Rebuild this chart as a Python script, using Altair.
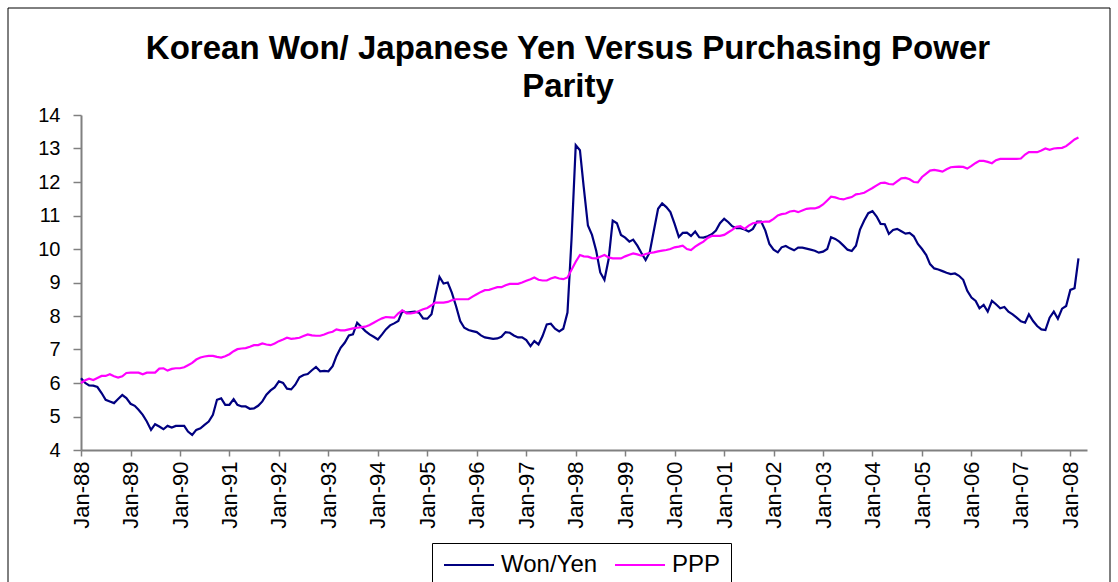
import altair as alt
import pandas as pd

# Monthly observations, Jan-1988 .. Mar-2008
months = pd.date_range("1988-01-01", periods=243, freq="MS")

won_yen = [
    # 1988
    6.14, 6.00, 5.93, 5.92, 5.88, 5.70, 5.50, 5.45, 5.40, 5.52, 5.64, 5.55,
    # 1989
    5.38, 5.32, 5.20, 5.05, 4.85, 4.60, 4.77, 4.70, 4.62, 4.72, 4.67, 4.72,
    # 1990
    4.72, 4.72, 4.55, 4.45, 4.60, 4.65, 4.75, 4.85, 5.05, 5.50, 5.54, 5.35,
    # 1991
    5.35, 5.52, 5.35, 5.30, 5.30, 5.23, 5.24, 5.32, 5.45, 5.65, 5.78, 5.87,
    # 1992
    6.05, 6.00, 5.83, 5.81, 5.95, 6.17, 6.24, 6.27, 6.38, 6.48, 6.35, 6.36,
    # 1993
    6.35, 6.50, 6.80, 7.05, 7.20, 7.42, 7.45, 7.80, 7.67, 7.55, 7.45, 7.38,
    # 1994
    7.30, 7.45, 7.60, 7.72, 7.78, 7.85, 8.15, 8.10, 8.12, 8.13, 8.10, 7.93,
    # 1995
    7.92, 8.05, 8.60, 9.17, 8.97, 9.00, 8.70, 8.30, 7.85, 7.65, 7.58, 7.55,
    # 1996
    7.52, 7.42, 7.36, 7.34, 7.32, 7.33, 7.38, 7.52, 7.50, 7.42, 7.36, 7.36,
    # 1997
    7.28, 7.10, 7.25, 7.15, 7.40, 7.75, 7.77, 7.62, 7.54, 7.62, 8.10, 10.30,
    # 1998
    13.10, 12.95, 11.85, 10.70, 10.42, 9.95, 9.30, 9.08, 9.70, 10.85, 10.77, 10.42,
    # 1999
    10.34, 10.22, 10.28, 10.10, 9.88, 9.67, 9.90, 10.55, 11.20, 11.36, 11.25, 11.10,
    # 2000
    10.75, 10.36, 10.48, 10.49, 10.39, 10.52, 10.35, 10.34, 10.38, 10.44, 10.55, 10.77,
    # 2001
    10.90, 10.80, 10.68, 10.62, 10.62, 10.58, 10.52, 10.60, 10.82, 10.82, 10.55, 10.15,
    # 2002
    9.98, 9.90, 10.05, 10.09, 10.02, 9.96, 10.04, 10.04, 10.01, 9.98, 9.95, 9.89,
    # 2003
    9.92, 10.00, 10.35, 10.30, 10.22, 10.10, 9.98, 9.94, 10.10, 10.58, 10.85, 11.07,
    # 2004
    11.13, 10.97, 10.75, 10.74, 10.45, 10.57, 10.60, 10.53, 10.46, 10.48, 10.38, 10.15,
    # 2005
    10.00, 9.82, 9.55, 9.42, 9.39, 9.34, 9.29, 9.25, 9.27, 9.20, 9.08, 8.75,
    # 2006
    8.55, 8.45, 8.23, 8.33, 8.13, 8.45, 8.35, 8.23, 8.27, 8.13, 8.05, 7.95,
    # 2007
    7.84, 7.80, 8.05, 7.85, 7.70, 7.60, 7.58, 7.95, 8.13, 7.92, 8.22, 8.30,
    # 2008
    8.78, 8.83, 9.72,
]

ppp = [
    # 1988
    6.00, 6.08, 6.13, 6.09, 6.15, 6.21, 6.21, 6.26, 6.20, 6.16, 6.20, 6.30,
    # 1989
    6.31, 6.31, 6.31, 6.26, 6.31, 6.31, 6.31, 6.43, 6.44, 6.37, 6.42, 6.44,
    # 1990
    6.44, 6.47, 6.53, 6.60, 6.70, 6.76, 6.79, 6.81, 6.81, 6.78, 6.76, 6.80,
    # 1991
    6.86, 6.95, 7.01, 7.03, 7.04, 7.08, 7.13, 7.13, 7.18, 7.15, 7.13, 7.18,
    # 1992
    7.25, 7.30, 7.35, 7.32, 7.33, 7.35, 7.40, 7.45, 7.42, 7.41, 7.41, 7.45,
    # 1993
    7.50, 7.53, 7.60, 7.57, 7.57, 7.60, 7.63, 7.65, 7.67, 7.68, 7.73, 7.80,
    # 1994
    7.87, 7.93, 7.97, 7.96, 7.95, 8.08, 8.17, 8.08, 8.08, 8.10, 8.15, 8.20,
    # 1995
    8.24, 8.32, 8.40, 8.40, 8.40, 8.42, 8.47, 8.50, 8.50, 8.50, 8.50, 8.58,
    # 1996
    8.65, 8.72, 8.77, 8.78, 8.82, 8.86, 8.86, 8.92, 8.96, 8.96, 8.96, 9.00,
    # 1997
    9.05, 9.10, 9.15, 9.08, 9.06, 9.06, 9.12, 9.16, 9.12, 9.10, 9.15, 9.38,
    # 1998
    9.62, 9.82, 9.78, 9.77, 9.73, 9.72, 9.77, 9.82, 9.75, 9.72, 9.72, 9.72,
    # 1999
    9.78, 9.83, 9.87, 9.84, 9.80, 9.85, 9.88, 9.90, 9.93, 9.95, 9.97, 10.00,
    # 2000
    10.05, 10.07, 10.10, 10.00, 9.97, 10.07, 10.15, 10.22, 10.33, 10.39, 10.39, 10.39,
    # 2001
    10.42, 10.50, 10.57, 10.66, 10.68, 10.60, 10.70, 10.77, 10.79, 10.80, 10.82, 10.82,
    # 2002
    10.90, 11.00, 11.04, 11.06, 11.12, 11.14, 11.10, 11.15, 11.20, 11.21, 11.21, 11.25,
    # 2003
    11.33, 11.45, 11.56, 11.54, 11.50, 11.48, 11.52, 11.55, 11.63, 11.65, 11.68, 11.75,
    # 2004
    11.82, 11.90, 11.97, 11.98, 11.94, 11.93, 12.02, 12.11, 12.12, 12.08, 12.00, 11.99,
    # 2005
    12.15, 12.25, 12.34, 12.36, 12.34, 12.31, 12.38, 12.44, 12.45, 12.46, 12.45, 12.40,
    # 2006
    12.48, 12.57, 12.63, 12.63, 12.60, 12.56, 12.65, 12.69, 12.69, 12.69, 12.69, 12.69,
    # 2007
    12.70, 12.82, 12.89, 12.89, 12.89, 12.94, 13.00, 12.96, 13.00, 13.01, 13.02, 13.07,
    # 2008
    13.17, 13.27, 13.33,
]

series_names = ["Won/Yen", "PPP"]
series_colors = ["#000080", "#FF00FF"]
y_ticks = list(range(4, 15))
tick_years = list(range(1988, 2009))

df = pd.DataFrame({
    "date": list(months) + list(months),
    "value": won_yen + ppp,
    "series": [series_names[0]] * len(won_yen) + [series_names[1]] * len(ppp),
})

FONT = "Liberation Sans"

x_axis = alt.Axis(
    values=[alt.DateTime(year=y, month=1, date=1) for y in tick_years],
    format="%b-%y",
    labelAngle=270,
    labelFontSize=22,
    labelFont=FONT,
    labelColor="black",
    labelPadding=5,
    labelOverlap=False,
    tickSize=6,
    tickColor="#808080",
    tickWidth=1.5,
    domainColor="#808080",
    domainWidth=2,
    grid=False,
    title=None,
)

y_axis = alt.Axis(
    values=y_ticks,
    labelFontSize=20,
    labelFont=FONT,
    labelColor="black",
    labelPadding=13,
    tickSize=8,
    tickColor="#808080",
    tickWidth=1.5,
    domainColor="#808080",
    domainWidth=2,
    grid=False,
    title=None,
)

lines = alt.Chart(df).mark_line(strokeWidth=2.2).encode(
    x=alt.X(
        "date:T",
        axis=x_axis,
        scale=alt.Scale(
            domain=[alt.DateTime(year=1988, month=1, date=1),
                    alt.DateTime(year=2008, month=5, date=3)],
            nice=False,
        ),
    ),
    y=alt.Y("value:Q", axis=y_axis, scale=alt.Scale(domain=[4, 14], nice=False, zero=False)),
    color=alt.Color(
        "series:N",
        scale=alt.Scale(domain=series_names, range=series_colors),
        sort=series_names,
        legend=alt.Legend(
            title=None,
            orient="none",
            legendX=351,
            legendY=428,
            direction="horizontal",
            symbolType="M-1,0H4",
            symbolSize=400,
            symbolStrokeWidth=2,
            labelFontSize=24,
            labelFont=FONT,
            labelColor="black",
            labelOffset=35,
            columnPadding=13,
            padding=10,
            strokeColor="black",
            fillColor="white",
        ),
    ),
)

frame = alt.Chart(pd.DataFrame({"k": [0]})).mark_rect(
    fillOpacity=0, stroke="black", strokeWidth=1
).encode(
    x=alt.value(-73), x2=alt.value(1029), y=alt.value(-107), y2=alt.value(480)
)

chart = alt.layer(frame, lines).properties(
    width=1006,
    height=335,
    autosize=alt.AutoSizeParams(type="none"),
    padding={"left": 81, "top": 115, "right": 31, "bottom": 132},
    background="white",
    title=alt.TitleParams(
        text=["Korean Won/ Japanese Yen Versus Purchasing Power", "Parity"],
        fontSize=33,
        font=FONT,
        fontWeight="bold",
        color="black",
        anchor="middle",
        dx=-16,
        lineHeight=38,
        offset=-96,
    ),
).configure_view(stroke=None)

chart.save("out.html", embed_options={"renderer": "svg", "actions": False})
